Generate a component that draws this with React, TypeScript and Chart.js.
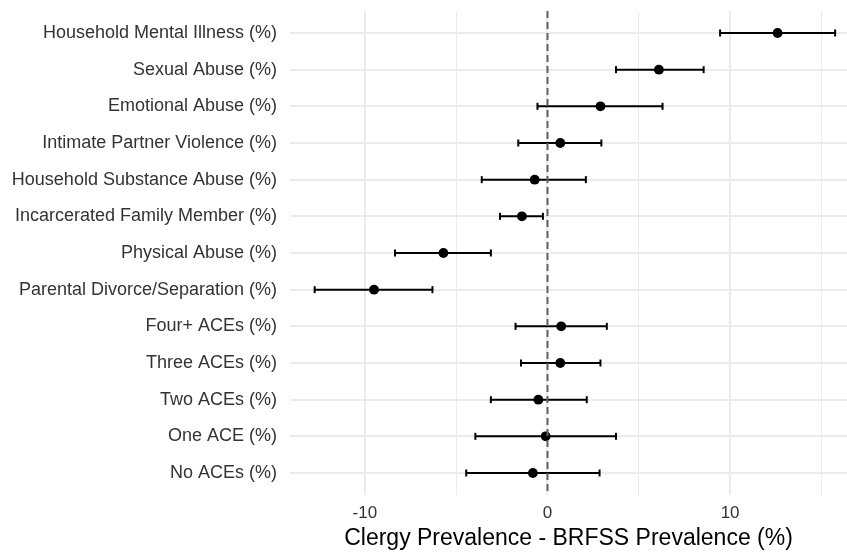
import React, { useEffect, useRef } from "react";
import { Chart, registerables } from "chart.js";

Chart.register(...registerables);

const categories = [
  "Household Mental Illness (%)",
  "Sexual Abuse (%)",
  "Emotional Abuse (%)",
  "Intimate Partner Violence (%)",
  "Household Substance Abuse (%)",
  "Incarcerated Family Member (%)",
  "Physical Abuse (%)",
  "Parental Divorce/Separation (%)",
  "Four+ ACEs (%)",
  "Three ACEs (%)",
  "Two ACEs (%)",
  "One ACE (%)",
  "No ACEs (%)",
];
const estimates = [12.6, 6.1, 2.9, 0.7, -0.7, -1.4, -5.7, -9.5, 0.75, 0.7, -0.5, -0.1, -0.8];
const lower = [9.45, 3.75, -0.55, -1.6, -3.6, -2.6, -8.35, -12.75, -1.75, -1.45, -3.1, -3.95, -4.45];
const upper = [15.75, 8.55, 6.3, 2.95, 2.1, -0.25, -3.1, -6.3, 3.25, 2.9, 2.15, 3.75, 2.85];
const xTicks = [-10, -5, 0, 5, 10, 15];
const xLabelled = [-10, 0, 10];
const xMin = -14.1;
const xMax = 16.4;
const yMin = -0.6;
const yMax = categories.length - 1 + 0.6;
const xTitle = "Clergy Prevalence - BRFSS Prevalence (%)";

export default function App() {
  const ref = useRef<HTMLCanvasElement | null>(null);
  useEffect(() => {
    if (!ref.current) return;
    Chart.defaults.font.family = "'Liberation Sans', Arial, sans-serif";
    const errorSets = categories.map((_, i) => ({
      type: "scatter" as const,
      data: [
        { x: lower[i], y: i },
        { x: upper[i], y: i },
      ],
      showLine: true,
      borderColor: "#000000",
      borderWidth: 2,
      pointStyle: "line" as const,
      rotation: 90,
      pointRadius: 3.5,
      pointBorderWidth: 2,
      pointBorderColor: "#000000",
      pointHoverRadius: 3.5,
      order: 3,
    }));
    const chart = new Chart(ref.current, {
      type: "scatter",
      data: {
        datasets: [
          {
            data: [
              { x: 0, y: yMin },
              { x: 0, y: yMax },
            ],
            showLine: true,
            borderColor: "#616161",
            borderWidth: 2,
            borderDash: [7, 4],
            pointRadius: 0,
            pointHoverRadius: 0,
            order: 1,
          },
          {
            data: estimates.map((v, i) => ({ x: v, y: i })),
            backgroundColor: "#000000",
            borderColor: "#000000",
            pointRadius: 4.9,
            pointHoverRadius: 4.9,
            borderWidth: 0,
            order: 2,
          },
          ...errorSets,
        ] as any,
      },
      options: {
        animation: false,
        responsive: false,
        events: [],
        layout: { autoPadding: false, padding: { top: 11, right: 0, left: 0, bottom: 0 } },
        plugins: { legend: { display: false }, tooltip: { enabled: false } },
        scales: {
          x: {
            type: "linear",
            min: xMin,
            max: xMax,
            afterBuildTicks: (s: any) => {
              s.ticks = xTicks.map((v) => ({ value: v }));
            },
            afterFit: (s: any) => {
              s.height = 57;
              s.paddingLeft = 0;
              s.paddingRight = 0;
            },
            border: { display: false },
            grid: {
              drawTicks: false,
              color: "#EBEBEB",
              lineWidth: (ctx: any) => (xLabelled.includes(ctx.tick?.value) ? 2 : 1),
            },
            ticks: {
              padding: 8,
              color: "#333333",
              font: { size: 17 },
              maxRotation: 0,
              autoSkip: false,
              callback: (v: any) => (xLabelled.includes(Number(v)) ? String(v) : ""),
            },
            title: {
              display: true,
              text: xTitle,
              color: "#000000",
              font: { size: 23 },
              padding: 0,
            },
          },
          y: {
            type: "linear",
            min: yMin,
            max: yMax,
            reverse: true,
            afterBuildTicks: (s: any) => {
              s.ticks = categories.map((_, i) => ({ value: i }));
            },
            afterFit: (s: any) => {
              s.width = 290;
              s.paddingTop = 0;
              s.paddingBottom = 0;
            },
            border: { display: false },
            grid: { drawTicks: false, color: "#EBEBEB", lineWidth: 2 },
            ticks: {
              padding: 13,
              color: "#333333",
              font: { size: 18 },
              autoSkip: false,
              callback: (v: any) => categories[Number(v)] ?? "",
            },
          },
        },
      },
    });
    return () => chart.destroy();
  }, []);
  return (
    <div style={{ position: "fixed", left: 0, top: 0, width: 847, height: 552, background: "#ffffff" }}>
      <canvas ref={ref} width={847} height={552} style={{ display: "block" }} />
    </div>
  );
}
